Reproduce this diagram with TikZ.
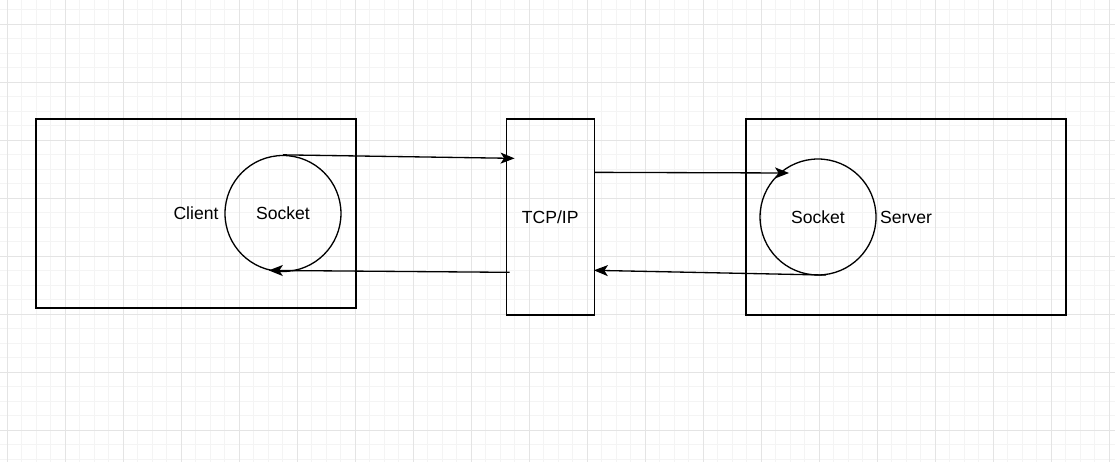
\documentclass[tikz,border=0pt]{standalone}
\usepackage{fontspec}
\setmainfont{Liberation Sans}
\usetikzlibrary{arrows.meta,positioning}
\definecolor{gridminor}{HTML}{F4F4F4}
\definecolor{gridmajor}{HTML}{E4E4E4}
\definecolor{ink}{HTML}{000000}

\begin{document}
\begin{tikzpicture}[
    x=0.02cm,y=-0.02cm,
    font=\fontsize{10}{12}\selectfont,
    hostbox/.style={draw=ink,line width=0.75pt,minimum width=6.4cm,inner sep=0pt,align=center},
    stackbox/.style={draw=ink,line width=0.75pt,minimum width=1.76cm,minimum height=3.92cm,inner sep=0pt},
    sockcircle/.style={circle,draw=ink,line width=0.75pt,minimum size=2.32cm,inner sep=0pt},
    arrow/.style={-{Stealth[length=0.28cm,width=0.22cm,inset=0.07cm]},line width=0.75pt,color=ink}
  ]
    \useasboundingbox (0,0) rectangle (1115,462);
    % background grid
    \foreach \k in {0,...,76}
      \draw[gridminor,line width=0.55pt] ({7+14.5*\k},0) -- ({7+14.5*\k},462);
    \foreach \k in {-1,...,30}
      \draw[gridminor,line width=0.55pt] (0,{24+14.5*\k}) -- (1115,{24+14.5*\k});
    \foreach \k in {0,...,19}
      \draw[gridmajor,line width=0.55pt] ({7+58*\k},0) -- ({7+58*\k},462);
    \foreach \k in {0,...,7}
      \draw[gridmajor,line width=0.55pt] (0,{24+58*\k}) -- (1115,{24+58*\k});

    \node[hostbox,minimum height=3.78cm] (client) at (196,213.5) {Client};
    \node[stackbox,right=2.98cm of client.north east,anchor=north west] (tcp) {TCP/IP};
    \node[hostbox,minimum height=3.92cm,right=3.01cm of tcp.north east,anchor=north west] (server) {Server};

    \node[sockcircle] (csock) at ([xshift=1.74cm]client.center) {Socket};
    \node[sockcircle] (ssock) at ([xshift=-1.76cm]server.center) {Socket};

    \draw[arrow] (csock.north) -- ([xshift=0.18cm,yshift=-0.8cm]tcp.north west);
    \draw[arrow] ([yshift=-1.08cm]tcp.north east) -- ([xshift=-0.58cm,yshift=0.88cm]ssock.center);
    \draw[arrow] (ssock.-82) -- ([xshift=-0.02cm,yshift=-3.04cm]tcp.north east);
    \draw[arrow] ([xshift=0.08cm,yshift=-3.08cm]tcp.north west) -- (csock.-104);
  \end{tikzpicture}
\end{document}
